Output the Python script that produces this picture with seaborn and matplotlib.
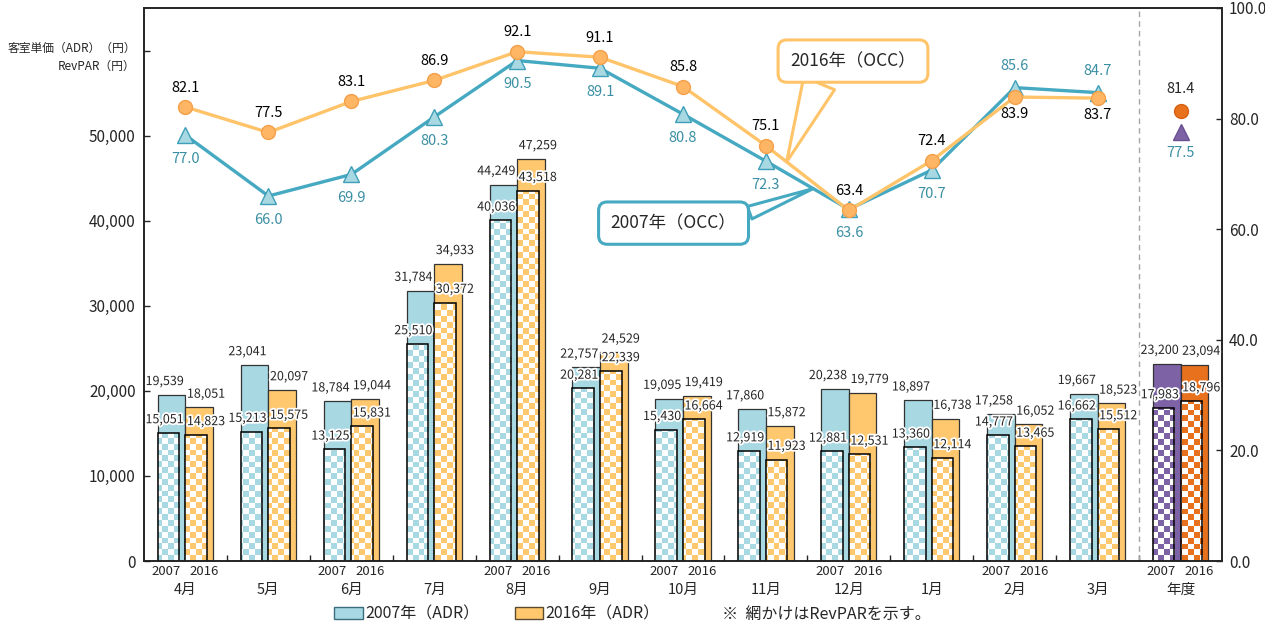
import numpy as np
import pandas as pd
import matplotlib
matplotlib.use("Agg")
import matplotlib.pyplot as plt
import matplotlib.patheffects as pe
from matplotlib.patches import Patch
from matplotlib.colors import to_rgb
from matplotlib.transforms import blended_transform_factory
import seaborn as sns

# ---- data -------------------------------------------------------------
months = ["4月", "5月", "6月", "7月", "8月", "9月", "10月", "11月", "12月",
          "1月", "2月", "3月", "年度"]
years = ["2007", "2016"]
adr_2007 = [19539, 23041, 18784, 31784, 44249, 22757, 19095, 17860, 20238,
            18897, 17258, 19667, 23200]
adr_2016 = [18051, 20097, 19044, 34933, 47259, 24529, 19419, 15872, 19779,
            16738, 16052, 18523, 23094]
revpar_2007 = [15051, 15213, 13125, 25510, 40036, 20281, 15430, 12919, 12881,
               13360, 14777, 16662, 17983]
revpar_2016 = [14823, 15575, 15831, 30372, 43518, 22339, 16664, 11923, 12531,
               12114, 13465, 15512, 18796]
occ_2007 = [77.0, 66.0, 69.9, 80.3, 90.5, 89.1, 80.8, 72.3, 63.6, 70.7, 85.6, 84.7]
occ_2016 = [82.1, 77.5, 83.1, 86.9, 92.1, 91.1, 85.8, 75.1, 63.4, 72.4, 83.9, 83.7]
occ_2007_year = 77.5
occ_2016_year = 81.4
left_ticks = [0, 10000, 20000, 30000, 40000, 50000, 60000]
left_ticklabels = ["0", "10,000", "20,000", "30,000", "40,000", "50,000", ""]
right_ticks = [0, 20, 40, 60, 80, 100]
right_ticklabels = ["0.0", "20.0", "40.0", "60.0", "80.0", "100.0"]
year_label_groups = [0, 2, 4, 6, 8, 10, 12]
# which OCC labels sit above their point
occ_2016_above = [True] * 10 + [False, False]
occ_2007_above = [False] * 10 + [True, True]

# ---- styles -----------------------------------------------------------
C07 = "#A8D8E2"
C16 = "#FFC86E"
C07Y = "#7D62A6"
C16Y = "#E8711E"
LINE07 = "#45A9C1"
LINE16 = "#FFC46A"
TXT07 = "#3A8FA3"

sns.set_style("ticks")
plt.rcParams["font.family"] = ["Noto Sans CJK JP", "DejaVu Sans"]
plt.rcParams["axes.linewidth"] = 1.1

fig = plt.figure(figsize=(12.65, 6.29), dpi=100)
ax = fig.add_axes([144 / 1265, 68 / 629, 1078 / 1265, 553 / 629])
X0, X1, YMAX = -0.5, 12.5, 65000

# ---- ADR bars (seaborn) -----------------------------------------------
df = pd.DataFrame({
    "月": months * 2,
    "年": [years[0]] * len(months) + [years[1]] * len(months),
    "ADR": adr_2007 + adr_2016,
})
sns.barplot(data=df, x="月", y="ADR", hue="年", order=months, hue_order=years,
            palette=[C07, C16], width=2 / 3, dodge=True, gap=0, saturation=1,
            errorbar=None, legend=False, edgecolor="#333333", linewidth=0.9,
            zorder=2, ax=ax)
for p in ax.patches:
    cx = p.get_x() + p.get_width() / 2
    if cx > 11.5:
        p.set_facecolor(C07Y if cx < 12 else C16Y)

# ---- RevPAR bars with checker fill -------------------------------------
nx, ny = int(1078 / 5.8), int(553 / 5.8)


def checker(color):
    rgb = np.array(to_rgb(color))
    ii, jj = np.indices((ny, nx))
    img = np.ones((ny, nx, 3))
    img[(ii + jj) % 2 == 0] = rgb
    return img


checks = {c: checker(c) for c in (C07, C16, C07Y, C16Y)}
x = np.arange(len(months))
bw = 0.26
for offs, vals, col, coly in ((-1 / 3, revpar_2007, C07, C07Y),
                              (0.0, revpar_2016, C16, C16Y)):
    base = ax.bar(x + offs, vals, width=bw, align="edge", facecolor="white",
                  edgecolor="none", zorder=3)
    for i, rect in enumerate(base):
        im = ax.imshow(checks[coly if i == 12 else col], extent=(X0, X1, 0, YMAX),
                       aspect="auto", interpolation="nearest", zorder=3.1)
        im.set_clip_path(rect)
    ax.bar(x + offs, vals, width=bw, align="edge", facecolor="none",
           edgecolor="black", linewidth=1.1, zorder=3.2)

# ---- bar value labels ---------------------------------------------------
halo = [pe.withStroke(linewidth=2.6, foreground="white")]
for i in range(len(months)):
    for dx, vals in ((-0.25, adr_2007), (-0.25, revpar_2007),
                     (0.25, adr_2016), (0.25, revpar_2016)):
        t = ax.annotate(f"{vals[i]:,}", (i + dx, vals[i]), xytext=(0, 7),
                        textcoords="offset points", ha="center", va="baseline",
                        fontsize=9, zorder=6)
        t.set_path_effects(halo)

ax.axvline(11.5, color="#A6A6A6", linestyle=(0, (4, 3)), linewidth=1, zorder=1)

ax.set_xlim(X0, X1)
ax.set_ylim(0, YMAX)
ax.set_yticks(left_ticks, left_ticklabels)
ax.set_xticks(x, months)
ax.set_xticks(np.arange(0.5, 12, 1), minor=True)
ax.tick_params(axis="x", which="major", length=0, pad=16, labelsize=10.5)
ax.tick_params(axis="x", which="minor", direction="in", length=4, width=1)
ax.tick_params(axis="y", direction="in", length=4, width=1, pad=6, labelsize=11)
ax.set_xlabel("")
ax.set_ylabel("")
for s in ax.spines.values():
    s.set_visible(True)
    s.set_color("black")

# year labels under groups
for g in year_label_groups:
    for dx, yr in ((-0.23, years[0]), (0.23, years[1])):
        ax.annotate(yr, (g + dx, 0), xycoords=("data", "axes fraction"),
                    xytext=(0, -3), textcoords="offset points",
                    ha="center", va="top", fontsize=9.5)

# left axis title at the top tick
ax.annotate("客室単価（ADR）（円）\nRevPAR（円）", (0, 60000),
            xycoords=blended_transform_factory(ax.transAxes, ax.transData),
            xytext=(-6, 6), textcoords="offset points", ha="right", va="top",
            multialignment="right", fontsize=8.5, linespacing=1.45)

# ---- OCC lines (seaborn) -------------------------------------------------
ax2 = ax.twinx()
xm = np.arange(len(occ_2007))
sns.lineplot(x=xm, y=occ_2016, ax=ax2, color=LINE16, linewidth=2.4,
             marker="o", markersize=10, markerfacecolor="#FFB664",
             markeredgecolor="#F5A04A", markeredgewidth=1.0, zorder=4)
sns.lineplot(x=xm, y=occ_2007, ax=ax2, color=LINE07, linewidth=2.4,
             marker="^", markersize=11, markerfacecolor=C07,
             markeredgecolor="#3E9FB8", markeredgewidth=1.0, zorder=3)
ax2.plot([12], [occ_2016_year], marker="o", markersize=10, color=C16Y,
         markeredgecolor="#D86010", linestyle="none", zorder=4)
ax2.plot([12], [occ_2007_year], marker="^", markersize=11, color=C07Y,
         markeredgecolor="#6A5090", linestyle="none", zorder=4)

for i, v in enumerate(occ_2016):
    dy = 14 if occ_2016_above[i] else -12
    ax2.annotate(f"{v:.1f}", (i, v), xytext=(0, dy), textcoords="offset points",
                 ha="center", va="center", fontsize=10.5, color="black")
for i, v in enumerate(occ_2007):
    dy = 15.5 if occ_2007_above[i] else -17
    ax2.annotate(f"{v:.1f}", (i, v), xytext=(0, dy), textcoords="offset points",
                 ha="center", va="center", fontsize=10.5, color=TXT07)
ax2.annotate(f"{occ_2016_year:.1f}", (12, occ_2016_year), xytext=(0, 16),
             textcoords="offset points", ha="center", va="center", fontsize=10.5)
ax2.annotate(f"{occ_2007_year:.1f}", (12, occ_2007_year), xytext=(0, -15),
             textcoords="offset points", ha="center", va="center", fontsize=10.5,
             color=TXT07)

# callouts
t16 = 7.25
ax2.annotate("2016年（OCC）",
             xy=(t16, occ_2016[7] + (t16 - 7) * (occ_2016[8] - occ_2016[7])),
             xytext=(8.05, 90.4), ha="center", va="center", fontsize=12.5, zorder=8,
             bbox=dict(boxstyle="round,pad=0.7,rounding_size=0.5", fc="white",
                       ec=LINE16, lw=2.2),
             arrowprops=dict(arrowstyle="wedge,tail_width=1.5", fc="white",
                             ec=LINE16, lw=2.2, relpos=(0.28, 0.1), shrinkA=0,
                             shrinkB=0, mutation_scale=16))
t07 = 7.57
ax2.annotate("2007年（OCC）",
             xy=(t07, occ_2007[7] + (t07 - 7) * (occ_2007[8] - occ_2007[7])),
             xytext=(5.886, 61.1), ha="center", va="center", fontsize=12.5, zorder=8,
             bbox=dict(boxstyle="round,pad=0.7,rounding_size=0.5", fc="white",
                       ec=LINE07, lw=2.2),
             arrowprops=dict(arrowstyle="wedge,tail_width=0.6", fc="white",
                             ec=LINE07, lw=2.2, relpos=(0.97, 0.72), shrinkA=0,
                             shrinkB=0, mutation_scale=16))

ax2.set_ylim(0, 100)
ax2.set_yticks(right_ticks, right_ticklabels)
ax2.tick_params(axis="y", direction="in", length=4, width=1, pad=5, labelsize=11)
ax2.set_xlim(X0, X1)
ax2.set_ylabel("")
ax2.set_xlabel("")

# ---- legend ---------------------------------------------------------------
handles = [Patch(facecolor=C07, edgecolor="#3B6E7C", linewidth=1.0),
           Patch(facecolor=C16, edgecolor="#5A4A30", linewidth=1.0)]
fig.legend(handles, ["2007年（ADR）", "2016年（ADR）"], loc="center",
           bbox_to_anchor=(497 / 1265, 1 - 614 / 629), ncol=2, frameon=False,
           fontsize=11.5, handlelength=1.8, handleheight=0.8, handletextpad=0.15,
           columnspacing=2.2, borderaxespad=0)
fig.text(722 / 1265, 1 - 614 / 629, "※  網かけはRevPARを示す。", ha="left",
         va="center", fontsize=11.5)

fig.savefig("out.png", dpi=100)
